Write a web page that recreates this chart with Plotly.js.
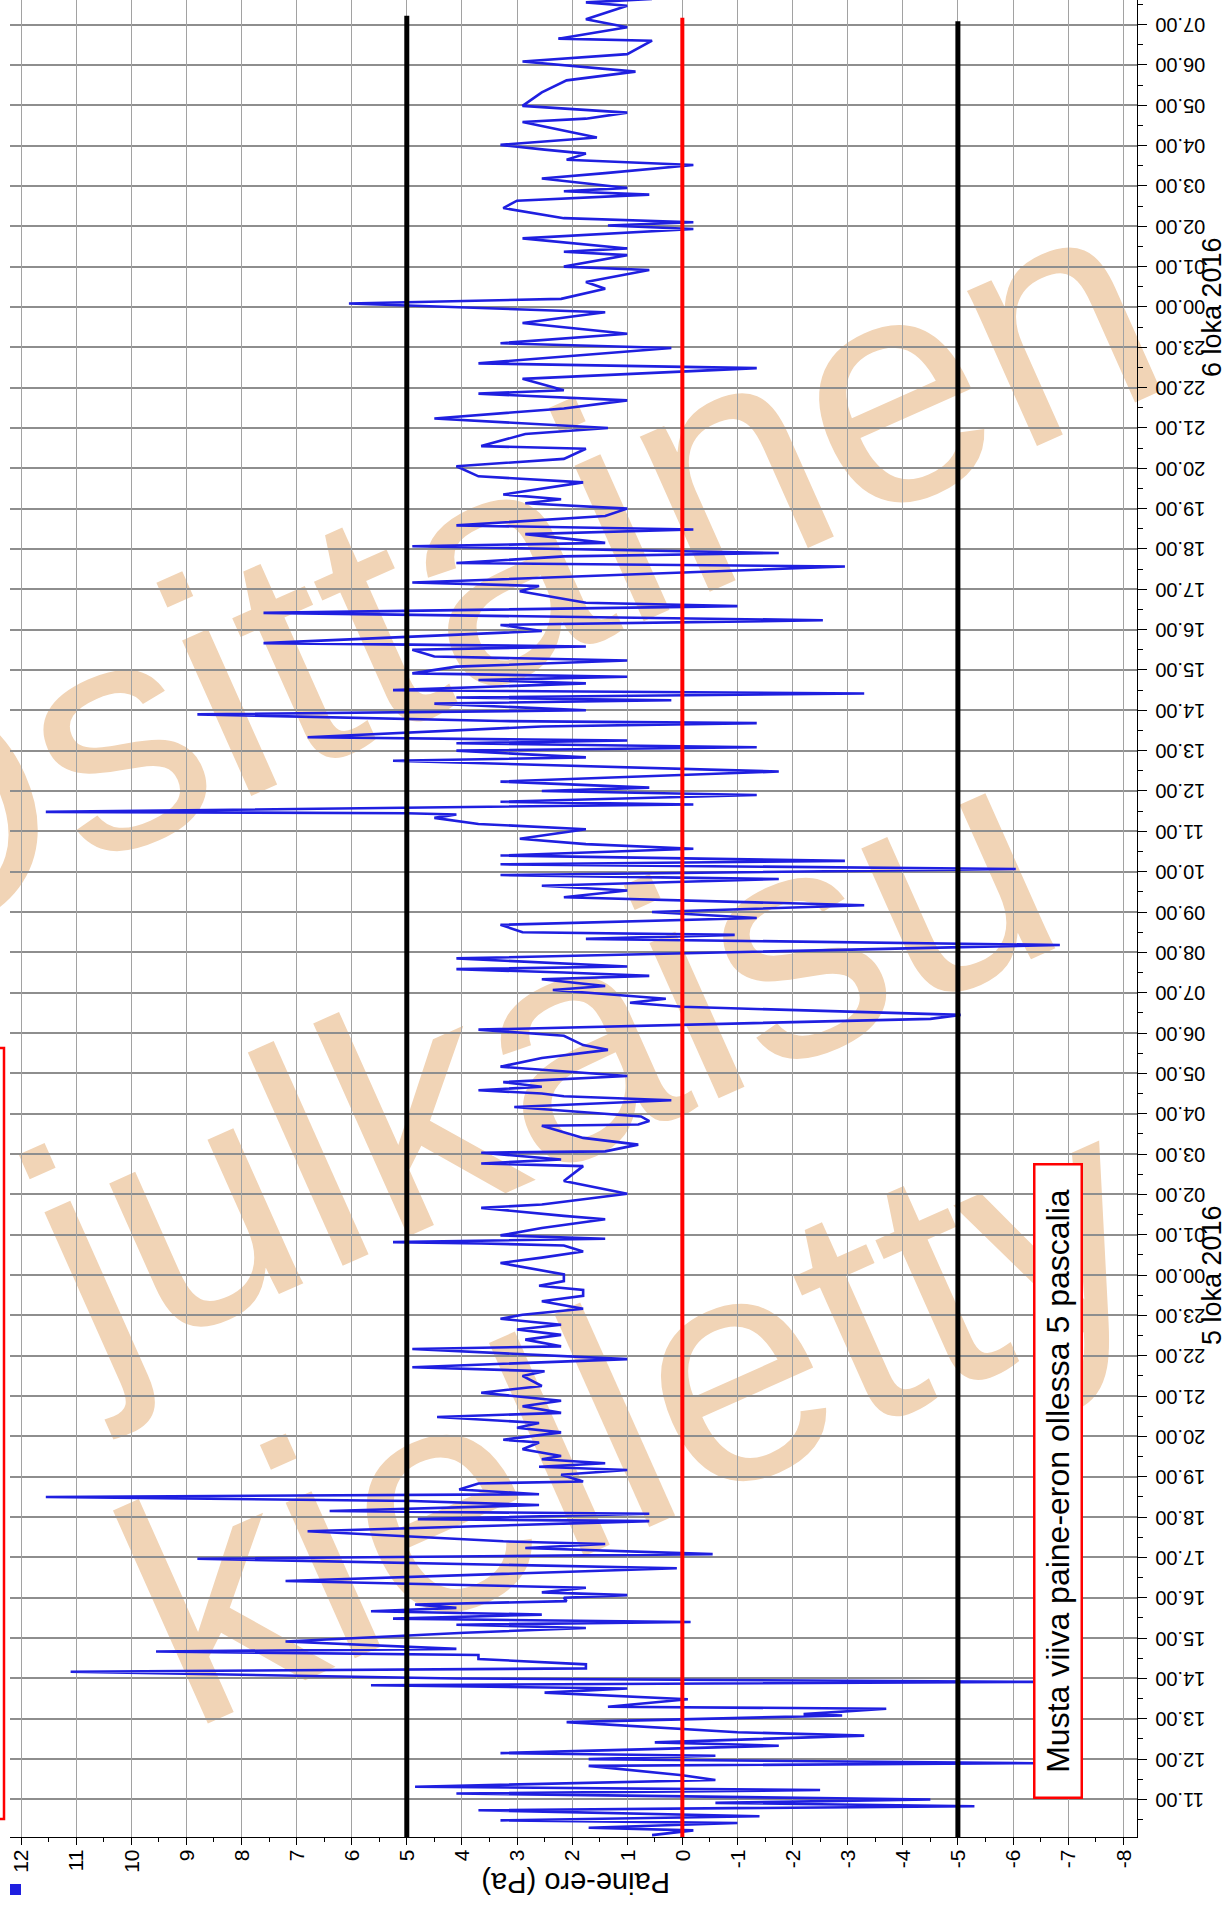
<!DOCTYPE html>
<html>
<head>
<meta charset="utf-8">
<script src="https://cdn.plot.ly/plotly-3.0.1.min.js"></script>
<style>
  html, body { margin: 0; padding: 0; background: #ffffff; }
  body { width: 1228px; height: 1910px; overflow: hidden; position: relative; }
  /* the chart is laid out landscape and turned a quarter turn counter-clockwise */
  #kaavio {
    position: absolute; left: 0; top: 0;
    width: 1910px; height: 1228px;
    transform-origin: 0 0;
    transform: translateY(1910px) rotate(-90deg);
  }
</style>
</head>
<body>
<div id="kaavio"></div>
<script>
// Measurement times, minutes from 5.10.2016 00:00
const minuutit = [
  607, 614, 618, 625, 629, 635, 644, 650, 655, 660, 669, 674, 679, 689, 696, 710, 714, 720, 725, 729,
  740, 745, 755, 760, 775, 785, 787, 795, 798, 809, 819, 825, 830, 835, 840, 850, 855, 861, 869, 875,
  880, 884, 895, 908, 915, 920, 924, 929, 935, 940, 945, 950, 955, 960, 964, 968, 975, 985, 1004, 1018,
  1025, 1034, 1040, 1044, 1059, 1074, 1077, 1085, 1089, 1098, 1104, 1110, 1114, 1121, 1130, 1133, 1143, 1150, 1155, 1160,
  1166, 1171, 1181, 1191, 1195, 1206, 1213, 1220, 1229, 1235, 1245, 1253, 1265, 1275, 1290, 1297, 1303, 1315, 1330, 1334,
  1344, 1351, 1359, 1366, 1375, 1381, 1390, 1401, 1409, 1418, 1424, 1431, 1441, 1458, 1466, 1475, 1484, 1487, 1489, 1494,
  1499, 1510, 1523, 1528, 1540, 1545, 1561, 1575, 1580, 1602, 1606, 1612, 1622, 1624, 1634, 1644, 1662, 1664, 1669, 1676,
  1690, 1700, 1706, 1710, 1715, 1720, 1727, 1736, 1750, 1763, 1775, 1782, 1796, 1805, 1821, 1827, 1839, 1845, 1851, 1864,
  1870, 1880, 1885, 1890, 1895, 1899, 1911, 1931, 1940, 1946, 1950, 1961, 1971, 1980, 1990, 2002, 2012, 2019, 2029, 2035,
  2044, 2051, 2056, 2064, 2074, 2081, 2089, 2103, 2111, 2120, 2125, 2127, 2129, 2140, 2144, 2154, 2160, 2165, 2174, 2189,
  2205, 2210, 2220, 2225, 2231, 2235, 2240, 2256, 2261, 2264, 2274, 2280, 2290, 2295, 2299, 2305, 2310, 2320, 2325, 2330,
  2335, 2345, 2354, 2360, 2370, 2375, 2380, 2398, 2407, 2414, 2425, 2435, 2440, 2457, 2465, 2470, 2475, 2494, 2499, 2509,
  2514, 2524, 2529, 2542, 2549, 2555, 2569, 2580, 2588, 2594, 2601, 2619, 2628, 2643, 2654, 2669, 2673, 2691, 2700, 2714,
  2729, 2741, 2751, 2756, 2773, 2789, 2796, 2819, 2826, 2840, 2856, 2872, 2885, 2892, 2907, 2917, 2935, 2940, 2957, 2962,
  2967, 2982, 2996, 3001, 3006, 3012, 3027, 3038, 3047, 3052, 3057, 3071, 3079, 3091, 3099, 3108, 3114, 3121, 3132, 3155,
  3160, 3169, 3179, 3199, 3217, 3230, 3245, 3256, 3276, 3279, 3296, 3308, 3328, 3333, 3338
];

// Pressure difference, Pa
const paineEro = [
  0.55, -0.2, 1.7, -1.0, 3.3, -1.4, 3.7, -5.3, -0.6, -4.5, 4.1, -2.5, 4.85, -0.6, 0.0, 1.7, -6.4, 1.7, -0.6, 3.3,
  -1.75, 0.5, -3.3, -1.0, 2.1, -2.9, -2.2, -3.7, 1.35, -0.1, 2.5, 1.0, 5.65, -6.4, 4.1, 11.1, 1.75, 1.75, 3.7, 3.7,
  9.55, 4.1, 7.2, 3.95, 1.75, 4.1, -0.15, 5.25, 2.55, 5.65, 4.1, 4.85, 2.1, 2.15, 1.0, 2.55, 1.75, 7.2, 0.1, 8.8,
  -0.55, 2.85, 1.4, 3.25, 6.8, 0.6, 4.8, 0.6, 6.4, 2.6, 4.9, 11.55, 2.6, 4.05, 3.7, 1.8, 2.2, 1.0, 2.6, 1.4,
  2.55, 2.2, 2.9, 2.6, 3.25, 2.2, 3.0, 2.6, 4.45, 2.2, 2.9, 2.2, 3.65, 2.55, 2.9, 2.5, 4.9, 1.0, 4.9, 2.2,
  2.85, 2.2, 3.0, 2.2, 3.3, 2.9, 1.8, 2.55, 1.8, 1.8, 2.6, 2.15, 2.15, 3.3, 2.55, 1.8, 2.15, 3.65, 5.25, 1.4,
  3.3, 2.55, 1.4, 2.15, 3.65, 2.55, 1.0, 1.8, 2.15, 1.8, 3.65, 2.2, 3.65, 1.4, 0.8, 1.8, 2.55, 0.8, 0.6, 0.75,
  3.05, 0.2, 2.15, 2.55, 3.7, 2.55, 3.25, 1.0, 3.3, 2.55, 1.35, 1.8, 2.15, 3.7, -4.5, -5.05, 0.0, 0.95, 0.3, 2.35,
  1.4, 2.55, 0.6, 2.15, 4.1, 1.0, 4.1, -6.85, 1.75, -0.95, 2.9, 3.3, -1.35, 0.55, -3.3, 2.15, 1.0, 2.55, -1.75, 3.3,
  -6.05, 3.3, -2.95, 3.3, -0.2, 1.75, 2.95, 1.75, 3.7, 4.5, 4.1, 5.0, 11.55, -0.2, 3.3, -1.35, 2.55, 0.6, 3.3, -1.75,
  5.25, 1.75, 4.1, -1.35, 4.1, 1.0, 6.8, 2.55, -1.35, 3.3, 8.8, 1.75, 4.5, 0.2, 4.1, -3.3, 5.25, 1.75, 3.7, 1.0,
  4.9, 4.1, 1.0, 4.5, 4.9, 1.75, 7.6, 2.55, 3.3, -2.55, 7.6, -1.0, 1.75, 2.95, 2.6, 4.9, 3.3, -2.95, 4.1, 2.15,
  -1.75, 4.9, 1.4, 2.85, -0.2, 4.1, 1.4, 1.0, 2.85, 2.2, 3.25, 1.8, 3.7, 4.1, 2.15, 1.75, 3.65, 2.85, 1.35, 4.5,
  2.15, 1.0, 3.7, 2.15, 2.9, -1.35, 3.7, 0.2, 3.3, 1.0, 2.9, 1.4, 6.05, 2.2, 1.4, 1.75, 0.6, 2.15, 1.0, 2.15,
  1.0, 2.9, -0.2, 1.35, -0.2, 2.15, 3.25, 3.0, 0.6, 2.15, 1.0, 2.55, 1.4, -0.2, 2.1, 1.75, 2.5, 3.3, 1.55, 2.9,
  1.75, 1.0, 2.9, 2.55, 2.1, 0.85, 2.9, 1.0, 0.55, 2.25, 1.0, 1.75, 1.0, 1.75, 0.55
];

// Reference levels (Pa) and the span they are drawn over (minutes)
const rajaArvot = [5, 0, -5];
const rajaVarit = ['#000000', '#ff0000', '#000000'];
const rajaLeveys = [5, 4, 5];
const rajaAlku = [604, 604, 604];
const rajaLoppu = [3313, 3310, 3305];

// Value axis ticks
const asteikko = [12, 11, 10, 9, 8, 7, 6, 5, 4, 3, 2, 1, 0, -1, -2, -3, -4, -5, -6, -7, -8];

// Day labels at the midnights
const paivat = ['5 loka 2016', '6 loka 2016'];
const paivaMinuutit = [1440, 2880];

// Axis span, minutes
const aikaAlku = 604.2;
const aikaLoppu = 3336.5;

const ALKU = Date.UTC(2016, 9, 5, 0, 0, 0);
function aika(m) {
  return new Date(ALKU + m * 60000).toISOString().slice(0, 19).replace('T', ' ');
}

const fontti = 'Liberation Sans, Arial, sans-serif';

const traces = [{
  type: 'scatter', mode: 'lines',
  x: minuutit.map(aika), y: paineEro,
  line: { color: '#1f1fe0', width: 2.6 },
  showlegend: false, hoverinfo: 'skip'
}];
rajaArvot.forEach((v, i) => {
  traces.push({
    type: 'scatter', mode: 'lines',
    x: [aika(rajaAlku[i]), aika(rajaLoppu[i])], y: [v, v],
    line: { color: rajaVarit[i], width: rajaLeveys[i] },
    showlegend: false, hoverinfo: 'skip'
  });
});

// plot area in layout pixels: left 73 .. 1910, top 10 .. 1137
const L = 73, R = 1910, T = 10, B = 1137;
const px = u => (u - L) / (R - L);
const py = v => (B - v) / (B - T);

const vesileima = [
  { teksti: 'Osittainen', u: 1363, v: 460 },
  { teksti: 'julkaisu', u: 881, v: 527 },
  { teksti: 'kielletty', u: 525, v: 621 }
];

const shapes = vesileima.map(w => ({
  type: 'rect', xref: 'paper', yref: 'paper', layer: 'below',
  x0: px(w.u) - 0.001, x1: px(w.u) + 0.001,
  y0: py(w.v) - 0.001, y1: py(w.v) + 0.001,
  line: { width: 0 }, fillcolor: 'rgba(0,0,0,0)',
  label: {
    text: w.teksti, textangle: 66, textposition: 'middle center',
    font: { family: fontti, size: 322, color: '#f1d4b6' }
  }
}));

// frame edge of a box that continues beyond the top of the chart
shapes.push({
  type: 'rect', xref: 'paper', yref: 'paper', layer: 'above',
  x0: px(91), x1: px(862), y0: py(4), y1: py(-60),
  line: { color: '#ff0000', width: 2.5 }, fillcolor: 'rgba(0,0,0,0)'
});
// series key marker
shapes.push({
  type: 'rect', xref: 'paper', yref: 'paper', layer: 'above',
  x0: px(15), x1: px(26), y0: py(21), y1: py(10),
  line: { width: 0 }, fillcolor: '#1f1fe0'
});

const annotations = [
  {
    xref: 'paper', yref: 'paper', x: px(27), y: py(576),
    text: 'Paine-ero (Pa)', textangle: -90, showarrow: false,
    xanchor: 'center', yanchor: 'middle',
    font: { family: fontti, size: 29, color: '#000' }
  },
  {
    xref: 'paper', yref: 'paper', x: px(428.5), y: py(1057.5),
    text: 'Musta viiva paine-eron ollessa 5 pascalia', showarrow: false,
    xanchor: 'center', yanchor: 'middle',
    width: 625, height: 39, borderpad: 3,
    bordercolor: '#ff0000', borderwidth: 2.5, bgcolor: '#ffffff',
    font: { family: fontti, size: 32, color: '#000' }
  }
];
paivat.forEach((p, i) => {
  annotations.push({
    xref: 'x', yref: 'paper', x: aika(paivaMinuutit[i]), y: py(1212),
    text: p, showarrow: false, xanchor: 'center', yanchor: 'middle',
    font: { family: fontti, size: 27, color: '#000' }
  });
});

const layout = {
  width: 1910, height: 1228,
  margin: { l: L, r: 1910 - R, t: T, b: 1228 - B, pad: 0 },
  paper_bgcolor: '#ffffff', plot_bgcolor: 'rgba(0,0,0,0)',
  showlegend: false,
  xaxis: {
    type: 'date', range: [aika(aikaAlku), aika(aikaLoppu)],
    tick0: aika(0), dtick: 3600000, tickformat: '%H.%M', tickangle: -90,
    ticks: 'outside', ticklen: 9, tickwidth: 1, tickcolor: '#000',
    showline: true, linecolor: '#000', linewidth: 1.3,
    showgrid: true, gridcolor: '#8e8e8e', gridwidth: 2,
    zeroline: false,
    tickfont: { family: fontti, size: 20, color: '#000' },
    minor: { dtick: 1800000, ticks: 'outside', ticklen: 5, tickcolor: '#000', showgrid: false }
  },
  yaxis: {
    range: [-8.25, 12.2],
    tickvals: asteikko, ticktext: asteikko.map(String),
    ticks: 'outside', ticklen: 7, tickwidth: 1, tickcolor: '#000',
    showline: true, linecolor: '#000', linewidth: 1.3,
    showgrid: true, gridcolor: '#a2a2a2', gridwidth: 1,
    zeroline: false,
    tickfont: { family: fontti, size: 21, color: '#000' },
    minor: { dtick: 0.5, ticks: 'outside', ticklen: 4, tickcolor: '#000', showgrid: false }
  },
  shapes: shapes,
  annotations: annotations
};

Plotly.newPlot('kaavio', traces, layout, { staticPlot: true, displayModeBar: false });
</script>
</body>
</html>
